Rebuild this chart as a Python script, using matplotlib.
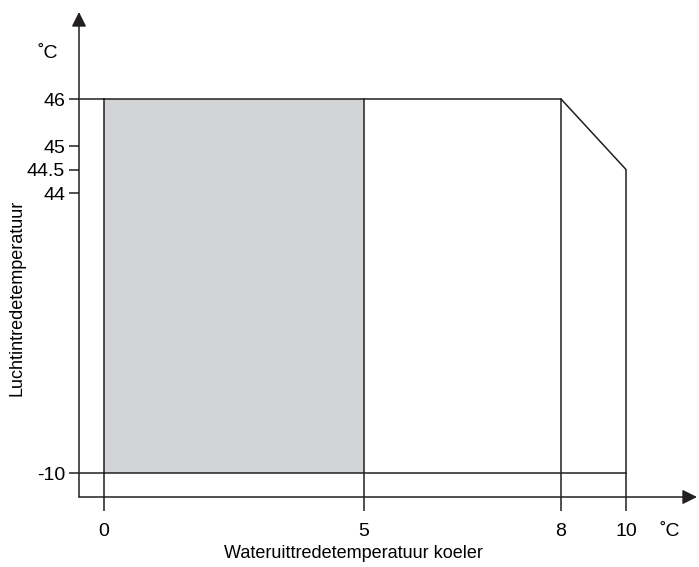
import numpy as np
import matplotlib
matplotlib.use('Agg')
import matplotlib.pyplot as plt

plt.rcParams['font.family'] = ['Liberation Sans', 'DejaVu Sans']

# data
x_ticks = [0, 5, 8, 10]
y_ticks = [-10, 44, 44.5, 45, 46]
y_labels = ['-10', '44', '44.5', '45', '46']
env_x = [0, 8, 10, 10, 0, 0]
env_y = [46, 46, 44.5, -10, -10, 46]
shade_x = [0, 5]
shade_y = [-10, 46]
split_x = [5, 8]

# piecewise axis scales (the drawing is not to scale)
xd = [-50, 0, 5, 8, 10, 50]
xp = [-50*52, 0, 260, 457, 522, 522 + 40*32.5]
yd = [-100, -10, 44, 46, 100]
yp = [-473 - 90*5.185, -473, -193, -99, -99 + 54*47]

def fx(v): return np.interp(v, xd, xp)
def fxi(v): return np.interp(v, xp, xd)
def fy(v): return np.interp(v, yd, yp)
def fyi(v): return np.interp(v, yp, yd)

col = '#231f20'
lw = 1.1

fig = plt.figure(figsize=(6.99, 5.67), dpi=100)
ax = fig.add_axes([79/699, 70/567, (697-79)/699, (497-12)/567])
ax.set_xscale('function', functions=(fx, fxi))
ax.set_yscale('function', functions=(fy, fyi))
ax.set_xlim(fxi(-25), fxi(593))
ax.set_ylim(fyi(-497), fyi(-12))

ax.fill_between(shade_x, shade_y[0], shade_y[1], color='#d3d4d6', lw=0)
ax.plot(env_x, env_y, color=col, lw=lw)
ybot = ax.get_ylim()[0]
for xv in split_x:
    ax.plot([xv, xv], [46, ybot], color=col, lw=lw)
for xv in [0, 10]:
    ax.plot([xv, xv], [-10, ybot], color=col, lw=lw)
# -10 and 46 lines join the axis
ax.plot([ax.get_xlim()[0], 0], [-10, -10], color=col, lw=lw)
ax.plot([ax.get_xlim()[0], 0], [46, 46], color=col, lw=lw)

for s in ax.spines.values():
    s.set_visible(False)
ax.annotate('', xy=(0, 1), xytext=(0, 0), xycoords='axes fraction',
            arrowprops=dict(arrowstyle='-|>', color=col, lw=lw, shrinkA=0, shrinkB=0,
                            mutation_scale=22))
ax.annotate('', xy=(1, 0), xytext=(0, 0), xycoords='axes fraction',
            arrowprops=dict(arrowstyle='-|>', color=col, lw=lw, shrinkA=0, shrinkB=0,
                            mutation_scale=22))

ax.set_xticks(x_ticks)
ax.set_xticklabels([str(v) for v in x_ticks])
ax.set_yticks(y_ticks)
ax.set_yticklabels(y_labels)
ax.minorticks_off()
ax.tick_params(axis='x', length=10, width=lw, color=col, pad=9, labelsize=14)
ax.tick_params(axis='y', length=7, width=lw, color=col, pad=3, labelsize=14)

fig.text(670/699, 1 - 531/567, '˚C', fontsize=14, ha='center', va='center')
fig.text(48/699, 1 - 53/567, '˚C', fontsize=14, ha='center', va='center')
fig.text(353/699, 1 - 553/567, 'Wateruittredetemperatuur koeler', fontsize=13,
         ha='center', va='center')
fig.text(17/699, 1 - 298/567, 'Luchtintredetemperatuur', fontsize=13,
         ha='center', va='center', rotation=90)

fig.savefig('out.png', dpi=100)
